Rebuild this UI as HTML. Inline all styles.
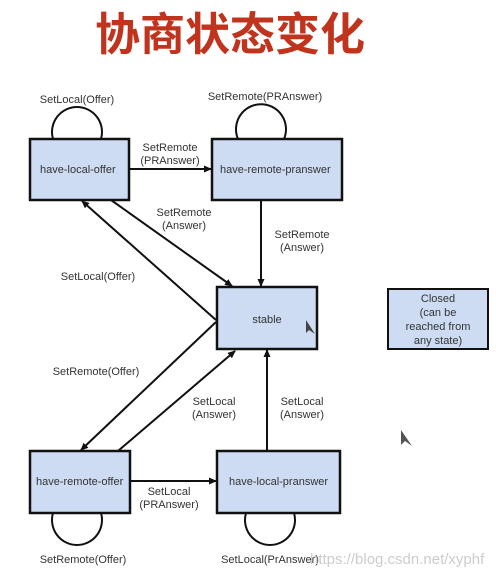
<!DOCTYPE html>
<html><head><meta charset="utf-8"><style>
body{margin:0;background:#fff;width:496px;height:569px;overflow:hidden}
svg text{font-family:"Liberation Sans",Arial,sans-serif;font-size:11px;fill:#333}
</style></head><body>
<svg width="496" height="569" viewBox="0 0 496 569">
<defs><marker id="a" markerWidth="8" markerHeight="8" refX="7" refY="4" orient="auto" markerUnits="userSpaceOnUse"><path d="M0,0.5 L8,4 L0,7.5z" fill="#111"/></marker></defs>
<text x="230" y="50" text-anchor="middle" style="font-family:'Liberation Sans','Noto Sans CJK SC',sans-serif;font-size:45px;font-weight:bold;fill:#c0341e">协商状态变化</text>
<g fill="#cddcf3" stroke="#111" stroke-width="2.5">
<rect x="30" y="139" width="99" height="61"/>
<rect x="212" y="139" width="130" height="61"/>
<rect x="217" y="287" width="100" height="62"/>
<rect x="388" y="289" width="100" height="60" stroke-width="2"/>
<rect x="30" y="451" width="100" height="62"/>
<rect x="217" y="451" width="123" height="62"/>
</g>
<g fill="none" stroke="#111" stroke-width="2">
<path d="M53,139 A25,25 0 1 1 101,139"/>
<path d="M238,139 A25,25 0 1 1 284,139"/>
<path d="M53,513 A25,25 0 1 0 101,513"/>
<path d="M246,513 A25,25 0 1 0 294,513"/>
<line x1="129" y1="169" x2="211" y2="169" marker-end="url(#a)"/>
<line x1="130" y1="481" x2="216" y2="481" marker-end="url(#a)"/>
<line x1="261" y1="200" x2="261" y2="286" marker-end="url(#a)"/>
<line x1="267" y1="451" x2="267" y2="350" marker-end="url(#a)"/>
<line x1="216" y1="320" x2="82" y2="201" marker-end="url(#a)"/>
<line x1="111" y1="200" x2="232" y2="286" marker-end="url(#a)"/>
<line x1="216" y1="322" x2="81" y2="450" marker-end="url(#a)"/>
<line x1="118" y1="451" x2="235" y2="351" marker-end="url(#a)"/>
</g>
<text x="40" y="173">have-local-offer</text>
<text x="220" y="173">have-remote-pranswer</text>
<text x="267" y="323" text-anchor="middle">stable</text>
<text x="36" y="485">have-remote-offer</text>
<text x="229" y="485">have-local-pranswer</text>
<g text-anchor="middle">
<text x="438" y="302">Closed</text><text x="438" y="316">(can be</text><text x="438" y="330">reached from</text><text x="438" y="344">any state)</text>
<text x="77" y="103">SetLocal(Offer)</text>
<text x="265" y="100">SetRemote(PRAnswer)</text>
<text x="170" y="151">SetRemote</text><text x="170" y="164">(PRAnswer)</text>
<text x="184" y="216">SetRemote</text><text x="184" y="229">(Answer)</text>
<text x="302" y="238">SetRemote</text><text x="302" y="251">(Answer)</text>
<text x="98" y="280">SetLocal(Offer)</text>
<text x="96" y="375">SetRemote(Offer)</text>
<text x="214" y="405">SetLocal</text><text x="214" y="418">(Answer)</text>
<text x="302" y="405">SetLocal</text><text x="302" y="418">(Answer)</text>
<text x="169" y="495">SetLocal</text><text x="169" y="508">(PRAnswer)</text>
<text x="83" y="563">SetRemote(Offer)</text>
<text x="270" y="563">SetLocal(PrAnswer)</text>
</g>
<text x="310" y="564" style="fill:#ccc;font-size:15px">https://blog.csdn.net/xyphf</text>
<path d="M401,430 L401,445 L405,441 L412,446z" fill="#555"/>
<path d="M306,320 L306,333 L309,330 L315,334z" fill="#444"/>
</svg>
</body></html>
